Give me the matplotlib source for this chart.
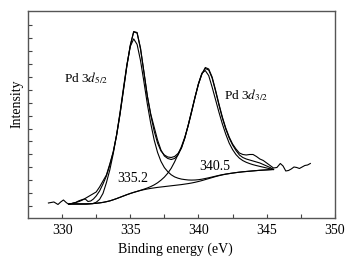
import matplotlib
matplotlib.use('Agg')
from matplotlib import pyplot as plt
import numpy as np

plt.rcParams['font.family'] = 'Liberation Serif'
plt.rcParams['mathtext.fontset'] = 'stix'

# fit grid, 0.25 eV steps from 330.5 to 345.5 eV
energy = np.arange(330.5, 345.51, 0.25)

# Shirley background (arb. units)
background = [14, 14, 14, 14, 14, 14, 14.2, 14.4, 14.7, 15.1, 15.6, 16.3, 17.1, 18.2,
              19.4, 20.7, 22.0, 23.3, 24.5, 25.6, 26.6, 27.5, 28.3, 29.0, 29.6, 30.1,
              30.6, 31.0, 31.4, 31.8, 32.2, 32.6, 33.0, 33.4, 33.9, 34.4, 35.0, 35.7,
              36.5, 37.4, 38.4, 39.4, 40.4, 41.4, 42.3, 43.1, 43.8, 44.4, 44.9, 45.4,
              45.8, 46.2, 46.5, 46.8, 47.1, 47.4, 47.7, 47.9, 48.1, 48.3, 48.5]

# Pd 3d5/2 component, height above background
peak_52 = [0, 0, 0, 0, 0, 0, 0, 0, 1, 3.5, 9, 19, 31, 46, 64, 85, 108, 130, 147,
           153.5, 147, 130, 108, 85, 65, 48, 35, 25.6, 19, 14.5, 11, 8.5, 6.8, 5.5,
           4.5, 3.6, 2.9, 2.3, 1.8, 1.4, 1.1, 0.8, 0.6, 0.4, 0.3, 0.2, 0.1,
           0, 0, 0, 0, 0, 0, 0, 0, 0, 0, 0, 0, 0, 0]

# Pd 3d3/2 component, height above background
peak_32 = [0, 0, 0, 0, 0, 0, 0, 0, 0, 0, 0, 0, 0, 0, 0, 0, 0, 0, 0, 0, 0,
           0.2, 0.5, 1, 1.8, 3, 4.6, 6.8, 9.5, 13, 17.5, 23.5, 30.5, 38, 47, 58,
           71, 85, 98, 107.5, 109, 103, 90.5, 77, 63.5, 51, 40, 30.5, 23.5, 18,
           14, 11.2, 9.2, 7.6, 6.2, 5, 3.9, 2.9, 1.9, 0.9, 0]

# fitted envelope
envelope = [14, 14.5, 15.5, 16.5, 18, 20, 22, 24, 26, 31, 37, 43, 54, 66, 83, 104,
            128, 152, 173, 186, 185, 170, 146, 122, 103, 87, 75, 67, 63, 61, 60.5,
            61.5, 64.5, 70, 80, 93, 107, 121, 134, 144, 149.5, 148, 140, 127, 113,
            100, 89, 80, 73, 67.5, 63, 60.5, 59, 58, 57, 56, 55, 53.5, 52, 50.5, 48.5]

# measured spectrum
raw_energy = [329.0, 329.2, 329.4, 329.7, 329.9, 330.1, 330.3, 330.5, 330.8, 331.0,
              331.2, 331.5, 331.7, 331.9, 332.1, 332.3, 332.5, 332.75, 333.0, 333.25,
              333.5, 333.75, 334.0, 334.25, 334.5, 334.75, 335.0, 335.25, 335.5,
              335.75, 336.0, 336.25, 336.5, 336.75, 337.0, 337.25, 337.5, 337.75,
              338.0, 338.25, 338.5, 338.75, 339.0, 339.25, 339.5, 339.75, 340.0,
              340.25, 340.5, 340.75, 341.0, 341.25, 341.5, 341.75, 342.0, 342.25,
              342.5, 342.75, 343.0, 343.25, 343.5, 343.75, 344.0, 344.25, 344.5,
              344.75, 345.0, 345.25, 345.5, 345.75, 346.0, 346.2, 346.4, 346.6,
              346.8, 347.0, 347.2, 347.4, 347.6, 347.8, 348.0, 348.2]
raw_counts = [15, 15.5, 16, 13.5, 16, 18, 15.5, 13.5, 15, 15.5, 17, 18.5, 19, 16.5,
              17, 19, 22, 27, 34, 42, 53, 66, 83, 104, 128, 152, 172, 186.5, 185.5, 169,
              146, 122, 104, 91, 78, 68, 62, 59.5, 58.5, 59.5, 63, 70, 80, 93, 107,
              121, 134, 144, 150.5, 149, 141, 128, 114, 101, 90, 81, 74, 69, 65,
              63.5, 63, 63.5, 63.5, 61.5, 59, 57.5, 55, 52.5, 50, 50.5, 54.5, 52,
              47, 47.5, 49, 51, 50.5, 49.5, 51, 52.5, 53, 54.5]

bg = np.array(background)
comp1 = bg + np.array(peak_52)
comp2 = bg + np.array(peak_32)

fig = plt.figure(figsize=(3.54, 2.62), dpi=100)
ax = fig.add_axes([0.079, 0.168, 0.867, 0.790])

lw = 0.8
ax.plot(raw_energy, raw_counts, color='black', lw=lw)
ax.plot(energy, envelope, color='black', lw=lw)
ax.plot(energy, comp1, color='black', lw=lw)
ax.plot(energy, comp2, color='black', lw=lw)
ax.plot(energy, bg, color='black', lw=lw)

ax.text(330.15, 140, r'Pd 3$d_{5/2}$', fontsize=9.5, va='center')
ax.text(341.9, 123, r'Pd 3$d_{3/2}$', fontsize=9.5, va='center')
ax.text(335.17, 39.5, '335.2', fontsize=10, ha='center', va='center')
ax.text(341.2, 51, '340.5', fontsize=10, ha='center', va='center')

ax.set_xlim(327.5, 350)
ax.set_ylim(0, 207)
ax.set_xticks([330, 335, 340, 345, 350])
ax.set_xticks(np.arange(332.5, 350, 5), minor=True)
ax.set_yticks(np.arange(12, 200, 12.9))
ax.tick_params(axis='both', which='both', direction='in', length=3, width=0.8,
               color='#444444', labelsize=10, top=False, right=False)
ax.tick_params(axis='x', pad=4)
ax.tick_params(axis='y', labelleft=False)

for sp in ax.spines.values():
    sp.set_color('#555555')
    sp.set_linewidth(1.0)

ax.set_xlabel('Binding energy (eV)', fontsize=10)
ax.set_ylabel('Intensity', fontsize=10)
ax.xaxis.set_label_coords(0.48, -0.12)
ax.yaxis.set_label_coords(-0.016, 0.55)

fig.savefig('out.png', dpi=100)
